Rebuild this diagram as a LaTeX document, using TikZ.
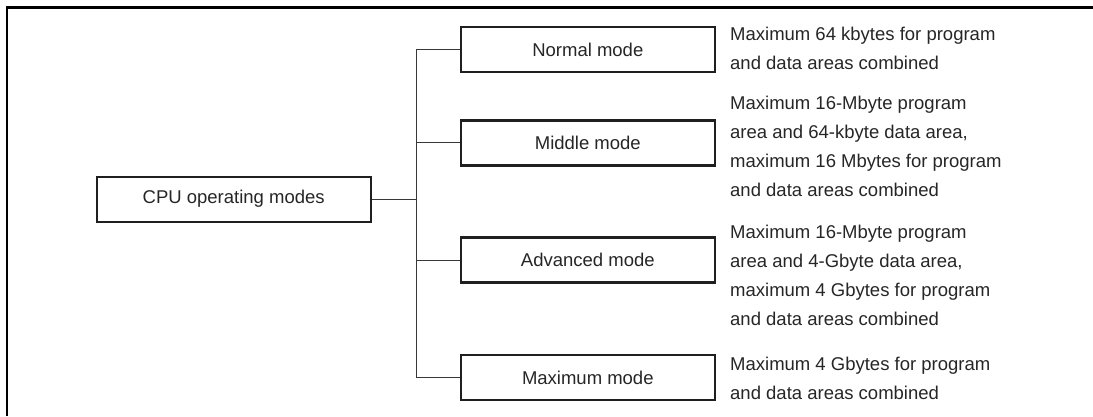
\documentclass[tikz,border=0pt]{standalone}
\usepackage{fontspec}
\setmainfont{Liberation Sans}
\begin{document}
\begin{tikzpicture}[x=1pt,y=-1pt,
  modebox/.style={draw=black!88,line width=2.2pt,minimum width=254.3pt,minimum height=45pt,inner sep=0pt,font=\fontsize{18.5}{22}\selectfont,text=black!85},
  rootbox/.style={modebox,minimum width=274pt},
  desc/.style={anchor=base west,align=left,inner sep=0pt,font=\fontsize{18.5}{29}\selectfont,text=black!85},
  conn/.style={draw=black!78,line width=1pt},
  frameline/.style={draw=black,line width=2.2pt}]
\useasboundingbox (0,0) rectangle (1093,416);
\draw[frameline] (6.6,416) -- (6.6,7.5) -- (1093,7.5);
\node[rootbox] (cpu) at (233.7,199.2) {CPU operating modes};
\node[modebox] (normal) at (587.8,49.8) {Normal mode};
\node[modebox] (middle) at (587.8,142.9) {Middle mode};
\node[modebox] (adv) at (587.8,260) {Advanced mode};
\node[modebox] (max) at (587.8,377.5) {Maximum mode};
\coordinate (jn) at (416,199.2);
\draw[conn] (cpu.east) -- (jn);
\draw[conn] (normal.west) -| (jn);
\draw[conn] (max.west) -| (jn);
\draw[conn] (middle.west) -- (middle.west -| jn);
\draw[conn] (adv.west) -- (adv.west -| jn);
% base anchor of a multi-line node is the baseline of its last line
\node[desc] (dnormal) at (730,69) {Maximum 64 kbytes for program\\and data areas combined};
\node[desc] (dmiddle) at (730,196.4) {Maximum 16-Mbyte program\\area and 64-kbyte data area,\\maximum 16 Mbytes for program\\and data areas combined};
\node[desc] (dadv) at (730,325.5) {Maximum 16-Mbyte program\\area and 4-Gbyte data area,\\maximum 4 Gbytes for program\\and data areas combined};
\node[desc] (dmax) at (730,399) {Maximum 4 Gbytes for program\\and data areas combined};
\end{tikzpicture}
\end{document}
